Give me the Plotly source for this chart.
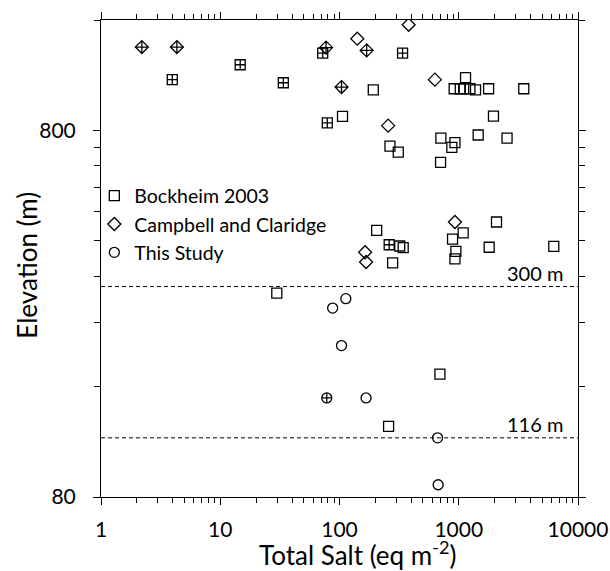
import math
import plotly.graph_objects as go

# Total salt (eq m^-2) vs. elevation (m); "cross" marks the crossed-symbol sites
bockheim_salt = [192, 3.96, 14.7, 33.8, 72.3, 338, 79, 106, 265, 311, 708, 704,
                 915, 1030, 1100, 1240, 1383, 1780, 3510, 1140, 1955, 929, 875,
                 1455, 2541, 205, 261, 320, 342, 279, 29.8, 695, 258, 1089, 2073,
                 887, 946, 929, 1799, 6266]
bockheim_elev = [1032, 1100, 1208, 1079, 1300, 1300, 839, 874, 725, 698, 762, 654,
                 1039, 1039, 1039, 1039, 1032, 1039, 1039, 1114, 875, 741, 719,
                 777, 762, 427, 390, 387, 383, 348, 288, 173, 124.7, 420, 450,
                 404, 374, 357, 384, 386]
bockheim_cross = [False, True, True, True, True, True, True, False, False, False, False, False,
                  False, False, False, False, False, False, False, False, False, False, False,
                  False, False, False, True, False, False, False, False, False, False, False, False,
                  False, False, False, False, False]

campbell_salt = [141, 2.2, 4.33, 77.1, 169, 380, 104, 631, 256, 164, 167, 929]
campbell_elev = [1423, 1350, 1350, 1345, 1322, 1553, 1050, 1100, 824, 372, 350, 450]
campbell_cross = [False, True, True, True, True, False, True, False, False, False, False, False]

study_salt = [113, 87.6, 104, 78.2, 167, 664, 672]
study_elev = [278, 262, 207, 149, 149, 116, 86.4]
study_cross = [False, False, False, True, False, False, False]

# Reference elevations drawn as dashed lines
ref_elev = [300, 116]
ref_labels = ["300 m", "116 m"]

FONT = "Lato"


def symbols(base, crossed):
    return [f"{base}-cross-open" if c else f"{base}-open" for c in crossed]


fig = go.Figure()
series = [
    ("Bockheim 2003", bockheim_salt, bockheim_elev, bockheim_cross, "square", 10),
    ("Campbell and Claridge", campbell_salt, campbell_elev, campbell_cross, "diamond", 10),
    ("This Study", study_salt, study_elev, study_cross, "circle", 10),
]
for name, xs, ys, cr, base, size in series:
    fig.add_trace(go.Scatter(
        x=xs, y=ys, mode="markers", name=name,
        marker=dict(symbol=symbols(base, cr), size=size, color="black",
                    line=dict(color="black", width=1.3)),
    ))

for e, lab in zip(ref_elev, ref_labels):
    fig.add_shape(type="line", xref="paper", yref="y", x0=0, x1=1, y0=e, y1=e,
                  line=dict(color="black", width=1, dash="4px,3px"))
    # annotation positions on a log axis are given in log10 units
    fig.add_annotation(xref="paper", yref="y", x=0.972, y=math.log10(e), text=lab,
                       showarrow=False, xanchor="right", yanchor="bottom", yshift=0,
                       font=dict(family=FONT, size=20, color="black"))

# Axis titles
fig.add_annotation(xref="paper", yref="paper", x=0.538, y=-0.119,
                   text="Total Salt (eq m<sup>-2</sup>)", showarrow=False,
                   xanchor="center", yanchor="middle", borderpad=0,
                   font=dict(family=FONT, size=26, color="black"))
fig.add_annotation(xref="paper", yref="paper", x=-0.155, y=0.485,
                   text="Elevation (m)", showarrow=False, textangle=-90,
                   xanchor="center", yanchor="middle",
                   font=dict(family=FONT, size=26, color="black"))

x_minor = [m * 10 ** d for d in range(4) for m in range(2, 10)]
y_minor = [80 * k for k in range(2, 10)] + [1600]

fig.update_xaxes(
    type="log", range=[0, 4], tickvals=[1, 10, 100, 1000, 10000],
    ticktext=["1", "10", "100", "1000", "10000"],
    ticks="outside", ticklen=7, tickwidth=1, tickcolor="black",
    showline=True, linecolor="black", linewidth=1, mirror="allticks",
    showgrid=False, zeroline=False, ticklabelstandoff=7, automargin=False,
    ticklabeloverflow="allow",
    tickfont=dict(family=FONT, size=21, color="black"),
    minor=dict(tickmode="array", tickvals=x_minor, ticks="outside", ticklen=5,
               tickwidth=1, tickcolor="black", showgrid=False),
)
fig.update_yaxes(
    type="log", range=[1.90309, 3.20412], tickvals=[80, 800], ticktext=["80", "800"],
    ticks="outside", ticklen=7, tickwidth=1, tickcolor="black",
    showline=True, linecolor="black", linewidth=1, mirror="allticks",
    showgrid=False, zeroline=False, ticklabelstandoff=13, automargin=False,
    tickfont=dict(family=FONT, size=21, color="black"),
    minor=dict(tickmode="array", tickvals=y_minor, ticks="outside", ticklen=6,
               tickwidth=1, tickcolor="black", showgrid=False),
)

fig.update_layout(
    width=610, height=571,
    margin=dict(l=101, r=32, t=20, b=74),
    paper_bgcolor="white", plot_bgcolor="white",
    font=dict(family=FONT, color="black"),
    legend=dict(x=-0.014, y=0.672, xanchor="left", yanchor="top",
                bgcolor="rgba(0,0,0,0)", font=dict(family=FONT, size=19.5, color="black"),
                itemwidth=30),
)

fig.write_html("out.html")
